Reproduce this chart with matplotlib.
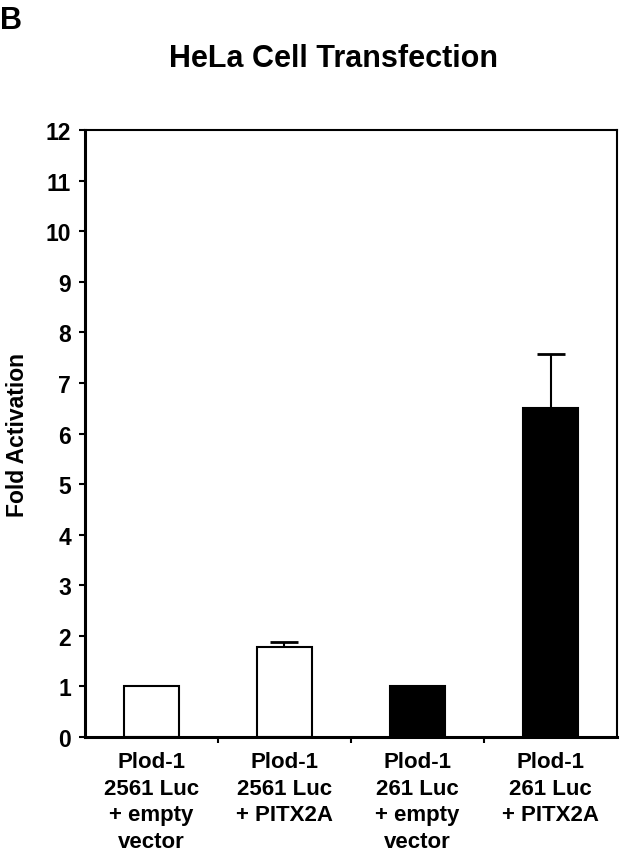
import numpy as np
import matplotlib.pyplot as plt

plt.rcParams['font.family'] = ['Liberation Sans', 'DejaVu Sans']
plt.rcParams['font.weight'] = 'bold'

# 数据
labels = ['Plod-1\n2561 Luc\n+ empty\nvector', 'Plod-1\n2561 Luc\n+ PITX2A',
          'Plod-1\n261 Luc\n+ empty\nvector', 'Plod-1\n261 Luc\n+ PITX2A']
values = [1.0, 1.78, 1.0, 6.5]
errors = [0, 0.1, 0, 1.08]
colors = ['white', 'white', 'black', 'black']

fig = plt.figure(figsize=(6.24, 8.53), dpi=100)
ax = fig.add_axes([0.136, 0.1348, 0.853, 0.7116])

x = np.arange(len(values))
ax.bar(x, values, width=0.41, color=colors, edgecolor='black', linewidth=1.5, zorder=2)
# 只画有误差的柱子，只向上
idx = [i for i, e in enumerate(errors) if e > 0]
ax.errorbar(x[idx], np.array(values)[idx], yerr=[np.zeros(len(idx)), np.array(errors)[idx]],
            fmt='none', ecolor='black', elinewidth=1.5, capsize=10, capthick=2, zorder=1)

ax.set_xlim(-0.5, 3.5)
ax.set_ylim(0, 12)
ax.set_yticks(range(0, 13))
ax.set_xticks(x)
ax.set_xticklabels(labels, fontsize=16, fontweight='bold', linespacing=1.35)
ax.set_xticks([0.5, 1.5, 2.5], minor=True)
ax.tick_params(axis='x', which='major', length=0, pad=10)
ax.tick_params(axis='x', which='minor', length=4, width=1.5, direction='out')
ax.tick_params(axis='y', labelsize=16.5, length=4, width=1.5, direction='out', pad=6)
for t in ax.get_yticklabels():
    t.set_fontweight('bold')

for side in ['left', 'bottom']:
    ax.spines[side].set_linewidth(2.2)
for side in ['top', 'right']:
    ax.spines[side].set_linewidth(1.5)

ax.set_ylabel('Fold Activation', fontsize=16.5, fontweight='bold', labelpad=12)
fig.text(0.535, 0.931, 'HeLa Cell Transfection', fontsize=22, fontweight='bold', ha='center', va='center')
fig.text(0.0, 0.975, 'B', fontsize=22, fontweight='bold', ha='left', va='center')

fig.savefig('out.png', dpi=100)
